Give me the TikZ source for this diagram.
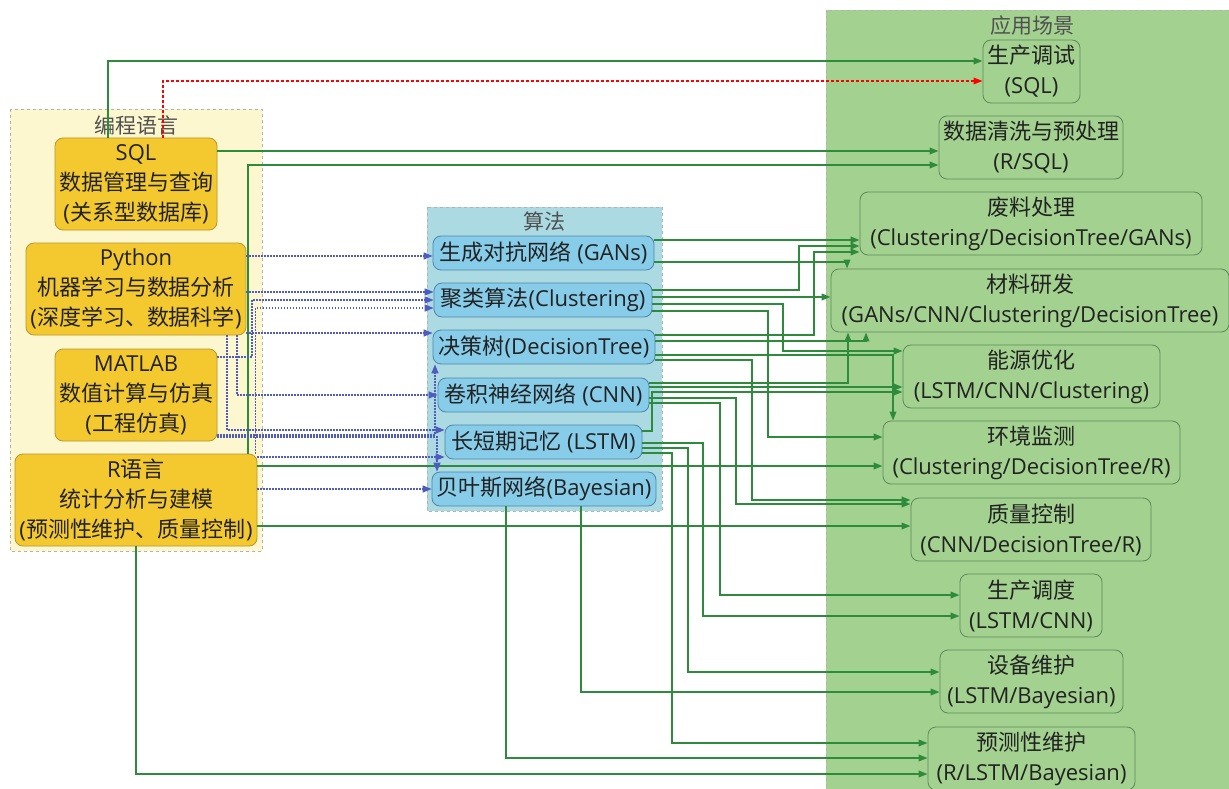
\documentclass[tikz,border=0pt]{standalone}
\usepackage{fontspec}
\setmainfont{Open Sans}
\newfontfamily\cjk{Noto Sans CJK SC}
\usetikzlibrary{arrows.meta}
\definecolor{panelY}{HTML}{FCF7CF}
\definecolor{panelB}{HTML}{ABDAE2}
\definecolor{panelG}{HTML}{A3D190}
\definecolor{goldF}{HTML}{F3C92F}
\definecolor{goldD}{HTML}{B8962E}
\definecolor{blueF}{HTML}{87CCE9}
\definecolor{blueD}{HTML}{4F86A6}
\definecolor{appD}{HTML}{5C8A5A}
\definecolor{lineG}{HTML}{2E8B3C}
\definecolor{lineB}{HTML}{4E5BBF}
\definecolor{txt}{HTML}{222222}
\definecolor{ttl}{HTML}{505050}
\begin{document}
\begin{tikzpicture}[x=1pt,y=-1pt,
  panel/.style={draw=gray!60, dashed, line width=0.6pt},
  ttlfont/.style={text=ttl, font=\cjk\fontsize{21}{24}\selectfont, inner sep=0pt},
  box/.style={rounded corners=8pt, line width=0.8pt, align=center, inner sep=0pt, text=txt,
     font=\fontsize{22}{30}\selectfont},
  goldbox/.style={box, draw=goldD, fill=goldF},
  bluebox/.style={box, draw=blueD, fill=blueF},
  appbox/.style={box, draw=appD, fill=panelG},
  gl/.style={draw=lineG, line width=1.8pt, -{Triangle[length=9pt,width=6.5pt]}},
  bl/.style={draw=lineB, line width=1.3pt, dash pattern=on 1.3pt off 1.7pt, -{Triangle[length=9pt,width=7pt]}},
  rl/.style={draw=red, line width=1.5pt, dash pattern=on 3pt off 2pt, -{Triangle[length=9pt,width=6.5pt]}}
]
\useasboundingbox (0,0) rectangle (1229,789);
\fill[white] (0,0) rectangle (1229,789);
% panels
\draw[panel, fill=panelY] (10,109) rectangle (262,551);
\draw[panel, fill=panelB] (427,207) rectangle (662,511);
\draw[panel, fill=panelG] (826,10) rectangle (1235,795);
\node[ttlfont] (t1) at (136,125) {编程语言};
\node[ttlfont] (t2) at (544,221) {算法};
\node[ttlfont] (t3) at (1032,26) {应用场景};
% language nodes
\node[goldbox, minimum width=162pt, minimum height=92pt] (sql) at (136,184) {SQL\\{\cjk 数据管理与查询}\\({\cjk 关系型数据库})};
\node[goldbox, minimum width=220pt, minimum height=92pt] (py) at (136,289) {Python\\{\cjk 机器学习与数据分析}\\({\cjk 深度学习、数据科学})};
\node[goldbox, minimum width=162pt, minimum height=92pt] (mat) at (136,395) {MATLAB\\{\cjk 数值计算与仿真}\\({\cjk 工程仿真})};
\node[goldbox, minimum width=242pt, minimum height=92pt] (r) at (136,500) {R{\cjk 语言}\\{\cjk 统计分析与建模}\\({\cjk 预测性维护、质量控制})};
% algorithm nodes
\node[bluebox, minimum width=221pt, minimum height=34pt] (gan) at (543.5,253) {{\cjk 生成对抗网络} (GANs)};
\node[bluebox, minimum width=218pt, minimum height=34pt] (clu) at (543,300) {{\cjk 聚类算法}(Clustering)};
\node[bluebox, minimum width=222pt, minimum height=34pt] (dt) at (544,347) {{\cjk 决策树}(DecisionTree)};
\node[bluebox, minimum width=211pt, minimum height=34pt] (cnn) at (543.5,395) {{\cjk 卷积神经网络} (CNN)};
\node[bluebox, minimum width=197pt, minimum height=34pt] (lstm) at (543.5,442) {{\cjk 长短期记忆} (LSTM)};
\node[bluebox, minimum width=224pt, minimum height=34pt] (bay) at (544,489) {{\cjk 贝叶斯网络}(Bayesian)};
% application nodes
\node[appbox, minimum width=97pt, minimum height=63pt] (a1) at (1031.5,71.5) {{\cjk 生产调试}\\(SQL)};
\node[appbox, minimum width=184pt, minimum height=63pt] (a2) at (1031,147.5) {{\cjk 数据清洗与预处理}\\(R/SQL)};
\node[appbox, minimum width=342pt, minimum height=63pt] (a3) at (1031,223.5) {{\cjk 废料处理}\\(Clustering/DecisionTree/GANs)};
\node[appbox, minimum width=398pt, minimum height=63pt] (a4) at (1030,300.5) {{\cjk 材料研发}\\(GANs/CNN/Clustering/DecisionTree)};
\node[appbox, minimum width=257pt, minimum height=63pt] (a5) at (1031.5,376.5) {{\cjk 能源优化}\\(LSTM/CNN/Clustering)};
\node[appbox, minimum width=297pt, minimum height=63pt] (a6) at (1031.5,452.5) {{\cjk 环境监测}\\(Clustering/DecisionTree/R)};
\node[appbox, minimum width=240pt, minimum height=63pt] (a7) at (1031,529.5) {{\cjk 质量控制}\\(CNN/DecisionTree/R)};
\node[appbox, minimum width=142pt, minimum height=63pt] (a8) at (1031,605.5) {{\cjk 生产调度}\\(LSTM/CNN)};
\node[appbox, minimum width=183pt, minimum height=63pt] (a9) at (1031.5,681.5) {{\cjk 设备维护}\\(LSTM/Bayesian)};
\node[appbox, minimum width=207pt, minimum height=63pt] (a10) at (1031.5,758.5) {{\cjk 预测性维护}\\(R/LSTM/Bayesian)};
% green connectors
\draw[gl] ([xshift=-28pt]sql.north) |- (a1.west |- 0,61);
\draw[rl] ([xshift=27pt]sql.north) |- (a1.west |- 0,81);
\draw[gl] (sql.east |- 0,151) -- (a2.west |- 0,151);
\draw[gl] ([xshift=112pt]r.north) |- (a2.west |- 0,165);
\draw[gl] (gan.east |- 0,240) -- (a3.west |- 0,240);
\draw[gl] (clu.east |- 0,290) -| (799,246) -- (a3.west |- 0,246);
\draw[gl] (dt.east |- 0,335) -| (814,252) -- (a3.west |- 0,252);
\draw[gl] (gan.east |- 0,262) -| (a4.north -| 847,0);
\draw[gl] (clu.east |- 0,297) -- (a4.west |- 0,297);
\draw[gl] (dt.east |- 0,341) -| (a4.south -| 866,0);
\draw[gl] (cnn.east |- 0,383) -| (a4.south -| 848,0);
\draw[gl] (clu.east |- 0,304) -| (783,351) -- (a5.west |- 0,351);
\draw[gl] (cnn.east |- 0,387) -- (a5.west |- 0,387);
\draw[gl] (lstm.east |- 0,431) -| (652,392) -- (a5.west |- 0,392);
\draw[gl] (clu.east |- 0,311) -| (768,437) -- (a6.west |- 0,437);
\draw[gl] (dt.east |- 0,355) -| (a6.north -| 893,0);
\draw[gl] (r.east |- 0,466) -- (a6.west |- 0,466);
\draw[gl] (dt.east |- 0,360) -| (752,500) -- (a7.west |- 0,500);
\draw[gl] (cnn.east |- 0,398) -| (736,504) -- (a7.west |- 0,504);
\draw[gl] (r.east |- 0,526) -- (a7.west |- 0,526);
\draw[gl] (cnn.east |- 0,403) -| (720,595) -- (a8.west |- 0,595);
\draw[gl] (lstm.east |- 0,443) -| (703,616) -- (a8.west |- 0,616);
\draw[gl] (lstm.east |- 0,448) -| (688,672) -- (a9.west |- 0,672);
\draw[gl] ([xshift=37pt]bay.south) |- (a9.west |- 0,692);
\draw[gl] (lstm.east |- 0,453) -| (672,743) -- (a10.west |- 0,743);
\draw[gl] ([xshift=-38pt]bay.south) |- (a10.west |- 0,758);
\draw[gl] (r.south) |- (a10.west |- 0,774);
% blue dotted connectors
\draw[bl] (py.east |- 0,256) -- (gan.west |- 0,256);
\draw[bl] (py.east |- 0,292) -- (clu.west |- 0,292);
\draw[bl] (mat.east |- 0,357) -| (252,300) -- (clu.west |- 0,300);
\draw[bl] ([xshift=-2pt]r.north east) |- (clu.west |- 0,308);
\draw[bl] (py.east |- 0,333) -- (dt.west |- 0,333);
\draw[bl] ([xshift=101pt]py.south) |- (cnn.west |- 0,395);
\draw[bl] ([xshift=91pt]py.south) |- (lstm.west |- 0,430);
\draw[bl] (mat.east |- 0,435) -| (dt.south -| 435,0);
\draw[bl] (mat.east |- 0,437) -| (bay.north -| 437,0);
\draw[bl] (r.east |- 0,457) -- (lstm.west |- 0,457);
\draw[bl] (r.east |- 0,489) -- (bay.west |- 0,489);
\end{tikzpicture}
\end{document}
